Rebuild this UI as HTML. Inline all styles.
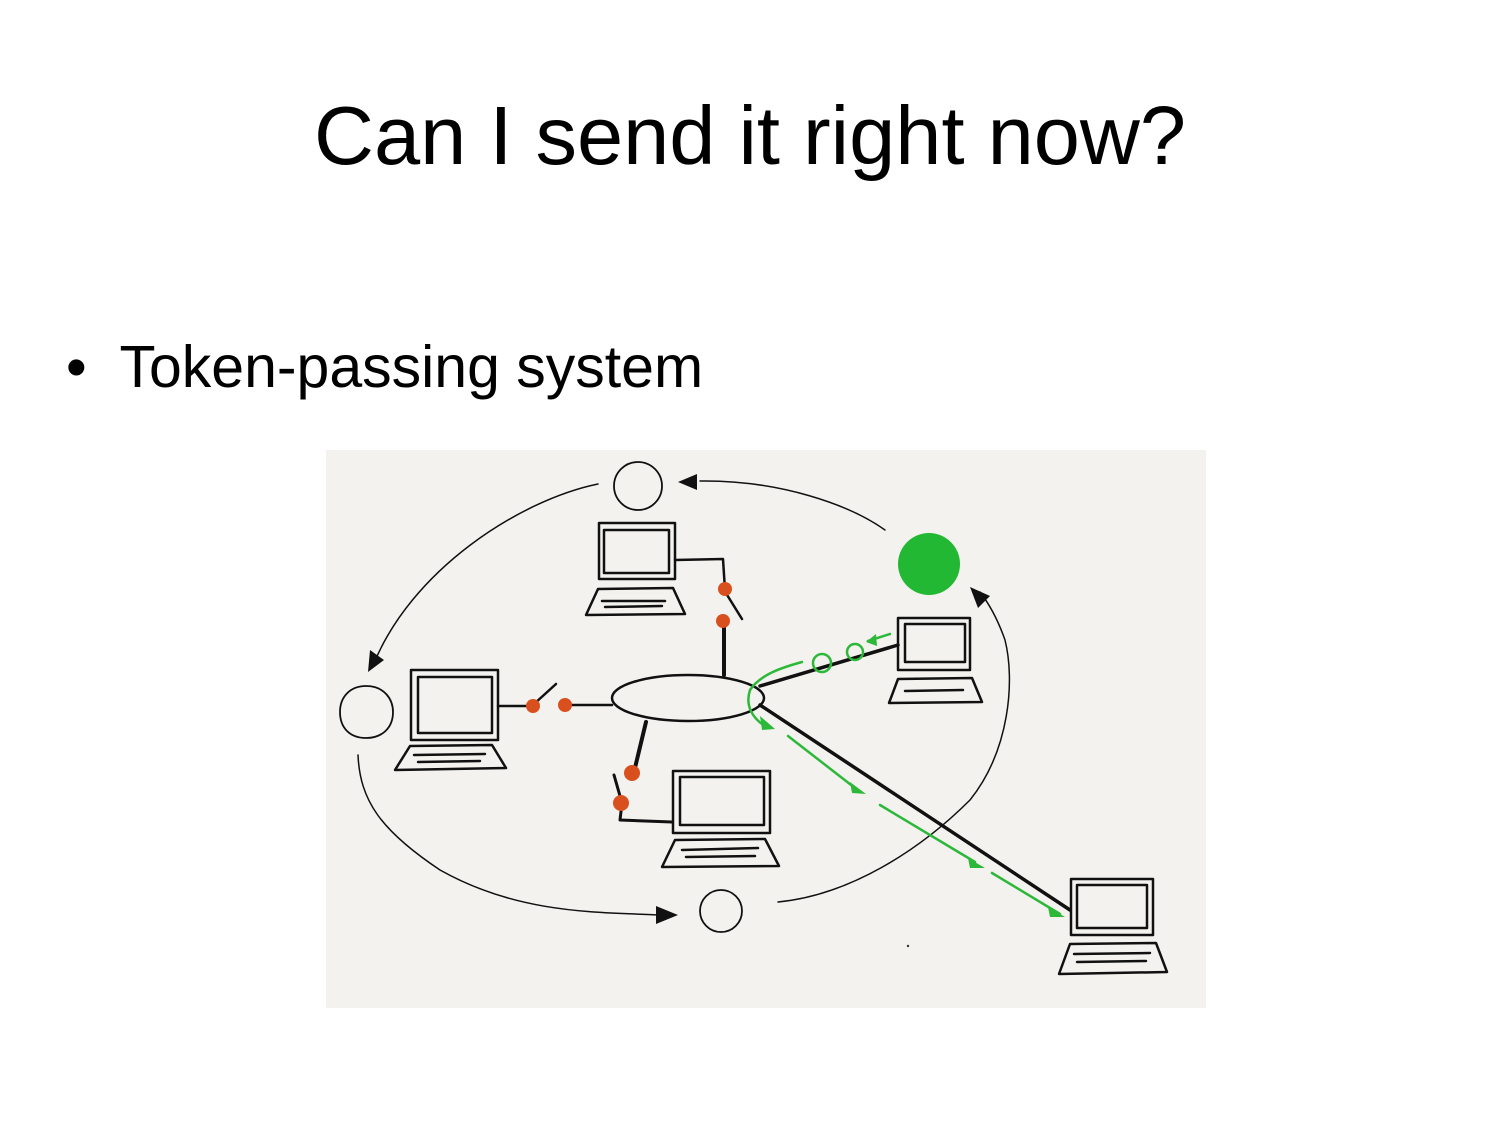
<!DOCTYPE html>
<html><head><style>
html,body{margin:0;padding:0;background:#fff;}
body{width:1500px;height:1125px;position:relative;overflow:hidden;font-family:"Liberation Sans",sans-serif;}
.t{position:absolute;left:0;width:1500px;top:88px;text-align:center;font-size:83px;color:#000;}
.b{position:absolute;left:66px;top:333px;font-size:59px;color:#000;}
svg{position:absolute;left:0;top:0;}
</style></head><body>
<div class="t">Can I send it right now?</div>
<div class="b">•&nbsp;&nbsp;Token-passing system</div>
<svg width="1500" height="1125" viewBox="0 0 1500 1125">
<rect x="326" y="450" width="880" height="558" fill="#f3f2ef"/>
<g fill="none" stroke="#111" stroke-linecap="round" stroke-linejoin="round">
<path d="M598,484 C520,500 410,570 372,668" stroke-width="1.5"/>
<path d="M700,481 C780,480 850,505 885,530" stroke-width="1.5"/>
<path d="M358,755 C360,800 380,830 440,870 C520,915 600,912 660,915" stroke-width="1.5"/>
<path d="M778,902 C850,895 920,850 970,800 C1010,750 1015,680 1005,640 C998,620 990,605 980,592" stroke-width="1.5"/>
<circle cx="638" cy="486" r="24" stroke-width="1.8"/>
<path d="M366,686 C385,686 393,700 393,712 C393,728 382,738 366,738 C350,738 340,728 340,712 C340,697 350,686 366,686Z" stroke-width="1.8"/>
<circle cx="721" cy="911" r="21" stroke-width="1.8"/>
<ellipse cx="688" cy="698" rx="76" ry="23" stroke-width="2.5"/>
<path d="M724,675 L724,622" stroke-width="4"/>
<path d="M724,590 L742,619" stroke-width="2.5"/>
<path d="M675,560 L723,559 L725,590" stroke-width="2.5"/>
<path d="M612,705 L568,705" stroke-width="2.5"/>
<path d="M534,704 L556,684" stroke-width="2.5"/>
<path d="M498,706 L534,706" stroke-width="2.5"/>
<path d="M646,722 L634,772" stroke-width="4"/>
<path d="M614,775 L622,803 L620,820 L672,822" stroke-width="3"/>
<path d="M760,686 L898,645" stroke-width="3.5"/>
<path d="M760,705 L1070,910" stroke-width="3.5"/>
<g stroke-width="2.5">
<rect x="599" y="523" width="76" height="56"/><rect x="604" y="530" width="65" height="43"/>
<path d="M598,589 L673,588 L685,614 L586,615Z"/><path d="M602,601 L665,601 M605,607 L662,606"/>
<rect x="411" y="670" width="87" height="70"/><rect x="418" y="677" width="74" height="56"/>
<path d="M410,746 L492,745 L506,768 L395,770Z"/><path d="M414,755 L485,754 M418,762 L480,761"/>
<rect x="673" y="771" width="97" height="62"/><rect x="680" y="777" width="84" height="48"/>
<path d="M675,840 L765,839 L779,866 L662,867Z"/><path d="M682,850 L758,848 M686,857 L755,856"/>
<rect x="898" y="618" width="72" height="52"/><rect x="905" y="624" width="60" height="38"/>
<path d="M898,679 L972,678 L982,702 L889,703Z"/><path d="M905,691 L963,690"/>
<rect x="1071" y="879" width="82" height="56"/><rect x="1077" y="885" width="70" height="43"/>
<path d="M1070,944 L1156,943 L1167,972 L1059,974Z"/><path d="M1074,954 L1150,953 M1077,962 L1146,961"/>
</g>
</g>
<g fill="#111">
<polygon points="678,482 697,474 697,490"/>
<polygon points="368,672 370,650 384,660"/>
<polygon points="678,915 656,906 656,924"/>
<polygon points="970,587 990,596 978,608"/>
</g>
<g fill="#d9501e">
<circle cx="725" cy="589" r="7"/><circle cx="723" cy="621" r="7"/>
<circle cx="533" cy="706" r="7"/><circle cx="565" cy="705" r="7"/>
<circle cx="632" cy="773" r="8"/><circle cx="621" cy="803" r="8"/>
</g>
<circle cx="929" cy="564" r="31" fill="#22b833"/>
<g fill="none" stroke="#2db83a" stroke-width="2.5" stroke-linecap="round">
<circle cx="822" cy="663" r="9"/><circle cx="855" cy="652" r="8"/>
<path d="M890,634 L868,641"/>
<path d="M802,662 C780,668 760,675 750,690 C745,705 752,718 765,726"/>
<path d="M788,736 L855,788"/>
<path d="M880,805 L975,862"/>
<path d="M992,873 L1060,914"/>
</g>
<g fill="#2db83a">
<polygon points="866,642 876,634 877,646"/>
<polygon points="775,729 760,716 762,730"/>
<polygon points="866,794 850,782 852,793"/>
<polygon points="985,868 968,858 970,868"/>
<polygon points="1065,917 1048,907 1050,917"/>
</g>
<circle cx="908" cy="946" r="1.2" fill="#333"/>
</svg>
</body></html>
